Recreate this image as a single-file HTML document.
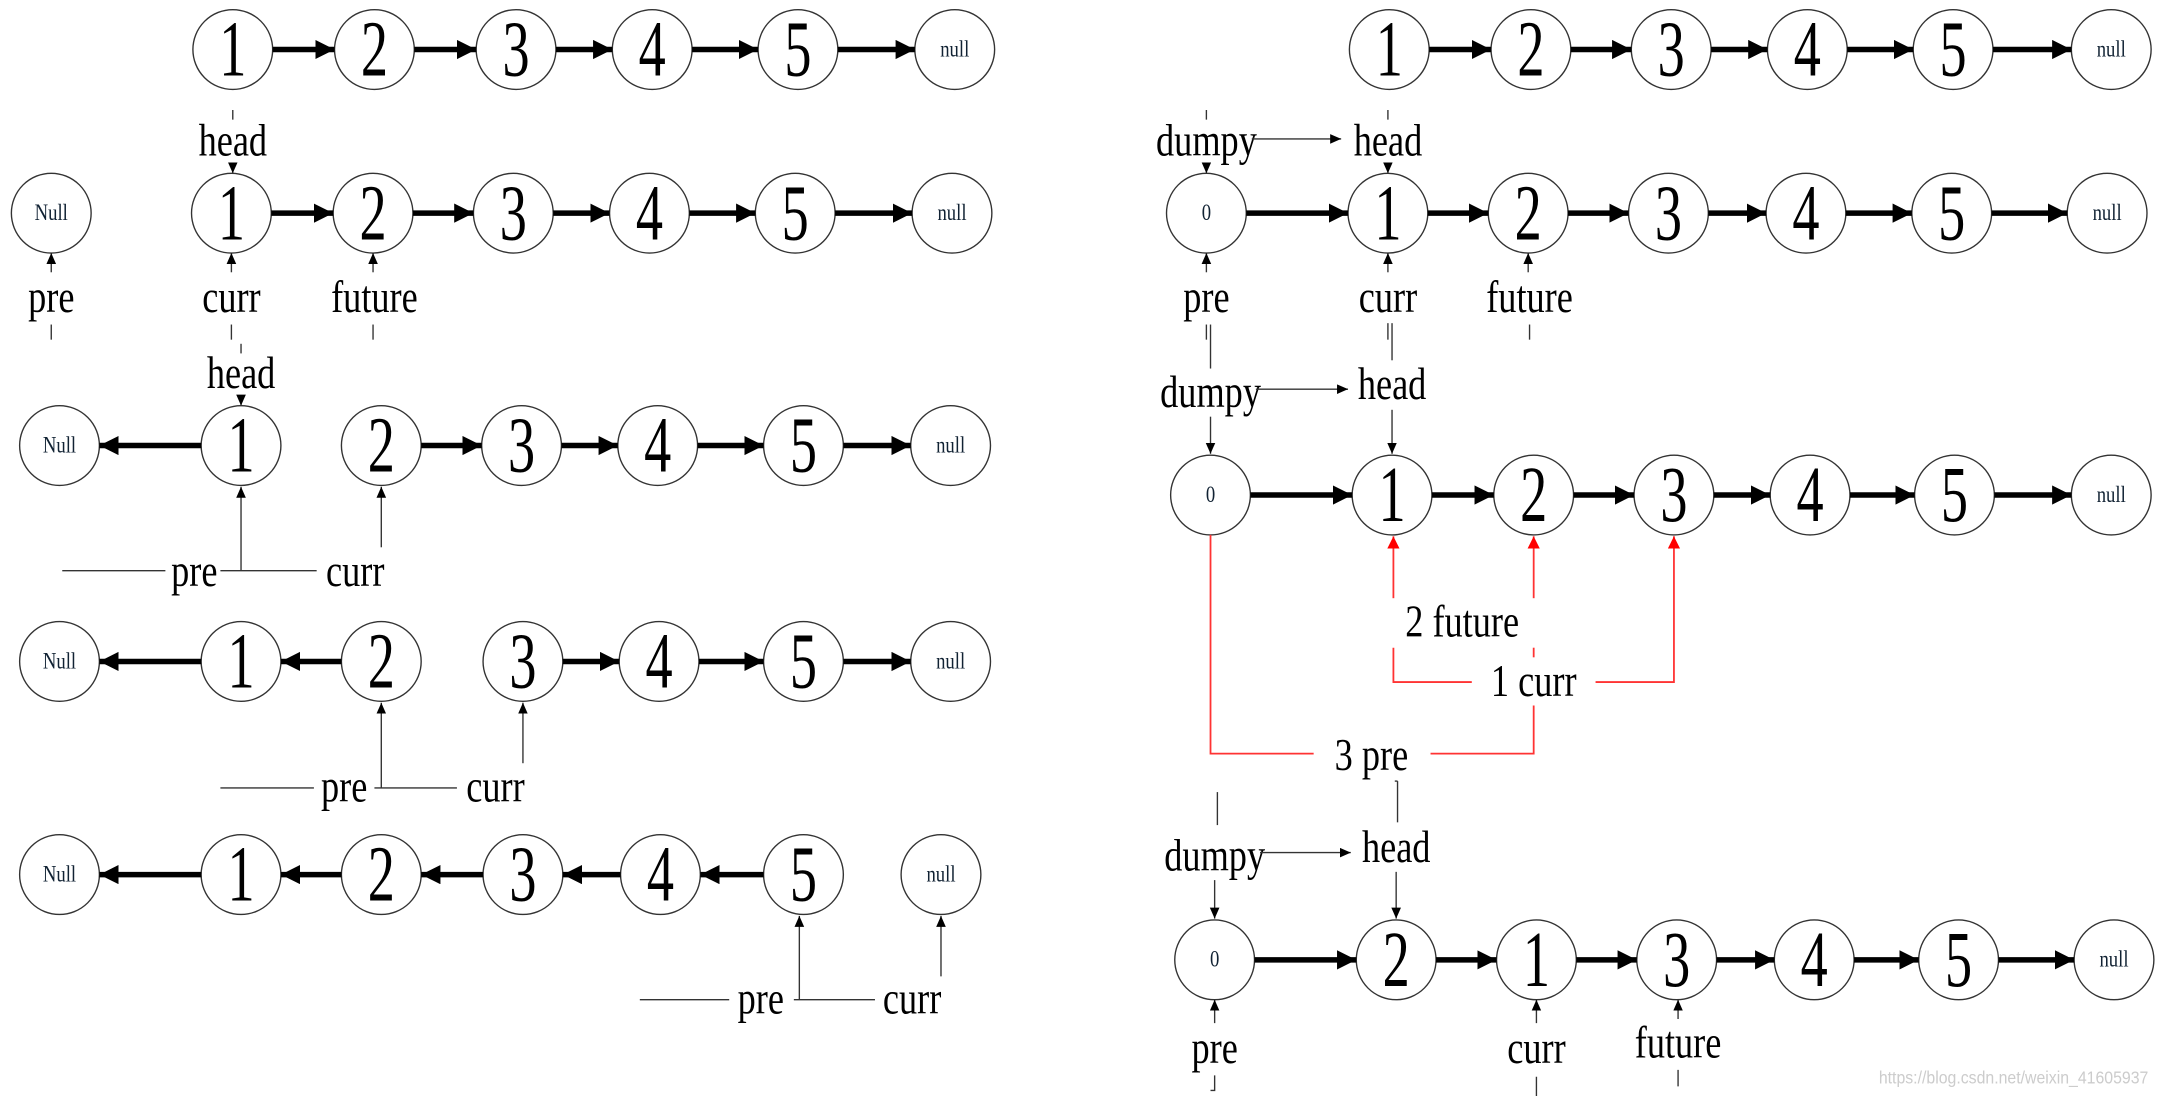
<!DOCTYPE html>
<html><head><meta charset="utf-8"><style>
html,body{margin:0;padding:0;background:#fff;}
svg{display:block}
.n{fill:#fff;stroke:#333;stroke-width:1}
.d{font-family:"Liberation Serif",serif;font-size:58px;text-anchor:middle;fill:#000;transform-box:fill-box;transform-origin:center;transform:translateY(4px) scaleX(.68)}
.s{font-family:"Liberation Serif",serif;font-size:17px;text-anchor:middle;fill:#123;transform-box:fill-box;transform-origin:center;transform:scaleX(.8)}
.l{font-family:"Liberation Serif",serif;font-size:33px;text-anchor:middle;fill:#000;transform-box:fill-box;transform-origin:center;transform:translateY(1px) scaleX(.8)}
.t{stroke:#000;stroke-width:4}
.f{stroke:#333;stroke-width:1;fill:none}
.r{stroke:#f33;stroke-width:1.3;fill:none}
</style></head><body>
<svg width="2157" height="1096" viewBox="0 0 1568 797" xmlns="http://www.w3.org/2000/svg">
<defs>
<marker id="A" markerUnits="userSpaceOnUse" markerWidth="15" markerHeight="15" refX="14" refY="7" orient="auto"><path d="M0,0 L14,7 L0,14 z" fill="#000"/></marker>
<marker id="B" markerUnits="userSpaceOnUse" markerWidth="9" markerHeight="8" refX="8" refY="3.5" orient="auto"><path d="M0,0 L8,3.5 L0,7 z" fill="#000"/></marker>
<marker id="R" markerUnits="userSpaceOnUse" markerWidth="9" markerHeight="10" refX="9" refY="4.5" orient="auto"><path d="M0,0 L9,4.5 L0,9 z" fill="#f00"/></marker>
</defs>

<!-- LEFT row0 -->
<circle class="n" cx="169" cy="36" r="29"/><text class="d" x="169" y="51">1</text>
<circle class="n" cx="272" cy="36" r="29"/><text class="d" x="272" y="51">2</text>
<circle class="n" cx="375" cy="36" r="29"/><text class="d" x="375" y="51">3</text>
<circle class="n" cx="474" cy="36" r="29"/><text class="d" x="474" y="51">4</text>
<circle class="n" cx="580" cy="36" r="29"/><text class="d" x="580" y="51">5</text>
<circle class="n" cx="694" cy="36" r="29"/><text class="s" x="694" y="41">null</text>
<line class="t" x1="198" y1="36" x2="243" y2="36" marker-end="url(#A)"/>
<line class="t" x1="301" y1="36" x2="346" y2="36" marker-end="url(#A)"/>
<line class="t" x1="404" y1="36" x2="445" y2="36" marker-end="url(#A)"/>
<line class="t" x1="503" y1="36" x2="551" y2="36" marker-end="url(#A)"/>
<line class="t" x1="609" y1="36" x2="665" y2="36" marker-end="url(#A)"/>

<!-- LEFT row1 -->
<line class="f" x1="169" y1="80" x2="169" y2="87"/>
<text class="l" x="169" y="112">head</text>
<line class="f" x1="169" y1="119" x2="169" y2="126" marker-end="url(#B)"/>
<circle class="n" cx="37" cy="155" r="29"/><text class="s" x="37" y="160">Null</text>
<circle class="n" cx="168" cy="155" r="29"/><text class="d" x="168" y="170">1</text>
<circle class="n" cx="271" cy="155" r="29"/><text class="d" x="271" y="170">2</text>
<circle class="n" cx="373" cy="155" r="29"/><text class="d" x="373" y="170">3</text>
<circle class="n" cx="472" cy="155" r="29"/><text class="d" x="472" y="170">4</text>
<circle class="n" cx="578" cy="155" r="29"/><text class="d" x="578" y="170">5</text>
<circle class="n" cx="692" cy="155" r="29"/><text class="s" x="692" y="160">null</text>
<line class="t" x1="197" y1="155" x2="242" y2="155" marker-end="url(#A)"/>
<line class="t" x1="300" y1="155" x2="344" y2="155" marker-end="url(#A)"/>
<line class="t" x1="402" y1="155" x2="443" y2="155" marker-end="url(#A)"/>
<line class="t" x1="501" y1="155" x2="549" y2="155" marker-end="url(#A)"/>
<line class="t" x1="607" y1="155" x2="663" y2="155" marker-end="url(#A)"/>
<line class="f" x1="37" y1="198" x2="37" y2="184" marker-end="url(#B)"/>
<line class="f" x1="168" y1="198" x2="168" y2="184" marker-end="url(#B)"/>
<line class="f" x1="271" y1="198" x2="271" y2="184" marker-end="url(#B)"/>
<text class="l" x="37" y="226">pre</text>
<text class="l" x="168" y="226">curr</text>
<text class="l" x="272" y="226">future</text>
<line class="f" x1="37" y1="236" x2="37" y2="247"/>
<line class="f" x1="168" y1="236" x2="168" y2="247"/>
<line class="f" x1="271" y1="236" x2="271" y2="247"/>
<line class="f" x1="175" y1="250" x2="175" y2="257"/>

<!-- LEFT row2 -->
<text class="l" x="175" y="281">head</text>
<line class="f" x1="175" y1="288" x2="175" y2="295" marker-end="url(#B)"/>
<circle class="n" cx="43" cy="324" r="29"/><text class="s" x="43" y="329">Null</text>
<circle class="n" cx="175" cy="324" r="29"/><text class="d" x="175" y="339">1</text>
<circle class="n" cx="277" cy="324" r="29"/><text class="d" x="277" y="339">2</text>
<circle class="n" cx="379" cy="324" r="29"/><text class="d" x="379" y="339">3</text>
<circle class="n" cx="478" cy="324" r="29"/><text class="d" x="478" y="339">4</text>
<circle class="n" cx="584" cy="324" r="29"/><text class="d" x="584" y="339">5</text>
<circle class="n" cx="691" cy="324" r="29"/><text class="s" x="691" y="329">null</text>
<line class="t" x1="146" y1="324" x2="72" y2="324" marker-end="url(#A)"/>
<line class="t" x1="306" y1="324" x2="350" y2="324" marker-end="url(#A)"/>
<line class="t" x1="408" y1="324" x2="449" y2="324" marker-end="url(#A)"/>
<line class="t" x1="507" y1="324" x2="555" y2="324" marker-end="url(#A)"/>
<line class="t" x1="613" y1="324" x2="662" y2="324" marker-end="url(#A)"/>
<line class="f" x1="45" y1="415" x2="120" y2="415"/>
<line class="f" x1="160" y1="415" x2="230" y2="415"/>
<line class="f" x1="175" y1="415" x2="175" y2="354" marker-end="url(#B)"/>
<line class="f" x1="277" y1="398" x2="277" y2="354" marker-end="url(#B)"/>
<text class="l" x="141" y="425">pre</text>
<text class="l" x="258" y="425">curr</text>

<!-- LEFT row3 -->
<circle class="n" cx="43" cy="481" r="29"/><text class="s" x="43" y="486">Null</text>
<circle class="n" cx="175" cy="481" r="29"/><text class="d" x="175" y="496">1</text>
<circle class="n" cx="277" cy="481" r="29"/><text class="d" x="277" y="496">2</text>
<circle class="n" cx="380" cy="481" r="29"/><text class="d" x="380" y="496">3</text>
<circle class="n" cx="479" cy="481" r="29"/><text class="d" x="479" y="496">4</text>
<circle class="n" cx="584" cy="481" r="29"/><text class="d" x="584" y="496">5</text>
<circle class="n" cx="691" cy="481" r="29"/><text class="s" x="691" y="486">null</text>
<line class="t" x1="146" y1="481" x2="72" y2="481" marker-end="url(#A)"/>
<line class="t" x1="248" y1="481" x2="204" y2="481" marker-end="url(#A)"/>
<line class="t" x1="409" y1="481" x2="450" y2="481" marker-end="url(#A)"/>
<line class="t" x1="508" y1="481" x2="555" y2="481" marker-end="url(#A)"/>
<line class="t" x1="613" y1="481" x2="662" y2="481" marker-end="url(#A)"/>
<line class="f" x1="160" y1="573" x2="228" y2="573"/>
<line class="f" x1="272" y1="573" x2="332" y2="573"/>
<line class="f" x1="277" y1="573" x2="277" y2="511" marker-end="url(#B)"/>
<line class="f" x1="380" y1="555" x2="380" y2="511" marker-end="url(#B)"/>
<text class="l" x="250" y="582">pre</text>
<text class="l" x="360" y="582">curr</text>

<!-- LEFT row4 -->
<circle class="n" cx="43" cy="636" r="29"/><text class="s" x="43" y="641">Null</text>
<circle class="n" cx="175" cy="636" r="29"/><text class="d" x="175" y="651">1</text>
<circle class="n" cx="277" cy="636" r="29"/><text class="d" x="277" y="651">2</text>
<circle class="n" cx="380" cy="636" r="29"/><text class="d" x="380" y="651">3</text>
<circle class="n" cx="480" cy="636" r="29"/><text class="d" x="480" y="651">4</text>
<circle class="n" cx="584" cy="636" r="29"/><text class="d" x="584" y="651">5</text>
<circle class="n" cx="684" cy="636" r="29"/><text class="s" x="684" y="641">null</text>
<line class="t" x1="146" y1="636" x2="72" y2="636" marker-end="url(#A)"/>
<line class="t" x1="248" y1="636" x2="204" y2="636" marker-end="url(#A)"/>
<line class="t" x1="351" y1="636" x2="306" y2="636" marker-end="url(#A)"/>
<line class="t" x1="451" y1="636" x2="409" y2="636" marker-end="url(#A)"/>
<line class="t" x1="555" y1="636" x2="509" y2="636" marker-end="url(#A)"/>
<line class="f" x1="465" y1="727" x2="530" y2="727"/>
<line class="f" x1="577" y1="727" x2="636" y2="727"/>
<line class="f" x1="581" y1="727" x2="581" y2="666" marker-end="url(#B)"/>
<line class="f" x1="684" y1="710" x2="684" y2="666" marker-end="url(#B)"/>
<text class="l" x="553" y="736">pre</text>
<text class="l" x="663" y="736">curr</text>

<!-- RIGHT row0 -->
<circle class="n" cx="1010" cy="36" r="29"/><text class="d" x="1010" y="51">1</text>
<circle class="n" cx="1113" cy="36" r="29"/><text class="d" x="1113" y="51">2</text>
<circle class="n" cx="1215" cy="36" r="29"/><text class="d" x="1215" y="51">3</text>
<circle class="n" cx="1314" cy="36" r="29"/><text class="d" x="1314" y="51">4</text>
<circle class="n" cx="1420" cy="36" r="29"/><text class="d" x="1420" y="51">5</text>
<circle class="n" cx="1535" cy="36" r="29"/><text class="s" x="1535" y="41">null</text>
<line class="t" x1="1039" y1="36" x2="1084" y2="36" marker-end="url(#A)"/>
<line class="t" x1="1142" y1="36" x2="1186" y2="36" marker-end="url(#A)"/>
<line class="t" x1="1244" y1="36" x2="1285" y2="36" marker-end="url(#A)"/>
<line class="t" x1="1343" y1="36" x2="1391" y2="36" marker-end="url(#A)"/>
<line class="t" x1="1449" y1="36" x2="1506" y2="36" marker-end="url(#A)"/>

<!-- RIGHT row1 -->
<line class="f" x1="877" y1="80" x2="877" y2="87"/>
<line class="f" x1="1009" y1="80" x2="1009" y2="87"/>
<text class="l" x="877" y="112">dumpy</text>
<text class="l" x="1009" y="112">head</text>
<line class="f" x1="910" y1="101" x2="975" y2="101" marker-end="url(#B)"/>
<line class="f" x1="877" y1="119" x2="877" y2="126" marker-end="url(#B)"/>
<line class="f" x1="1009" y1="119" x2="1009" y2="126" marker-end="url(#B)"/>
<circle class="n" cx="877" cy="155" r="29"/><text class="s" x="877" y="160">0</text>
<circle class="n" cx="1009" cy="155" r="29"/><text class="d" x="1009" y="170">1</text>
<circle class="n" cx="1111" cy="155" r="29"/><text class="d" x="1111" y="170">2</text>
<circle class="n" cx="1213" cy="155" r="29"/><text class="d" x="1213" y="170">3</text>
<circle class="n" cx="1313" cy="155" r="29"/><text class="d" x="1313" y="170">4</text>
<circle class="n" cx="1419" cy="155" r="29"/><text class="d" x="1419" y="170">5</text>
<circle class="n" cx="1532" cy="155" r="29"/><text class="s" x="1532" y="160">null</text>
<line class="t" x1="906" y1="155" x2="980" y2="155" marker-end="url(#A)"/>
<line class="t" x1="1038" y1="155" x2="1082" y2="155" marker-end="url(#A)"/>
<line class="t" x1="1140" y1="155" x2="1184" y2="155" marker-end="url(#A)"/>
<line class="t" x1="1242" y1="155" x2="1284" y2="155" marker-end="url(#A)"/>
<line class="t" x1="1342" y1="155" x2="1390" y2="155" marker-end="url(#A)"/>
<line class="t" x1="1448" y1="155" x2="1503" y2="155" marker-end="url(#A)"/>
<line class="f" x1="877" y1="198" x2="877" y2="184" marker-end="url(#B)"/>
<line class="f" x1="1009" y1="198" x2="1009" y2="184" marker-end="url(#B)"/>
<line class="f" x1="1111" y1="198" x2="1111" y2="184" marker-end="url(#B)"/>
<text class="l" x="877" y="226">pre</text>
<text class="l" x="1009" y="226">curr</text>
<text class="l" x="1112" y="226">future</text>
<line class="f" x1="877" y1="236" x2="877" y2="247"/>
<line class="f" x1="880" y1="236" x2="880" y2="268"/>
<line class="f" x1="1009" y1="235" x2="1009" y2="247"/>
<line class="f" x1="1012" y1="235" x2="1012" y2="262"/>
<line class="f" x1="1112" y1="236" x2="1112" y2="247"/>

<!-- RIGHT row2 -->
<text class="l" x="880" y="295">dumpy</text>
<text class="l" x="1012" y="289">head</text>
<line class="f" x1="913" y1="283" x2="980" y2="283" marker-end="url(#B)"/>
<line class="f" x1="880" y1="303" x2="880" y2="330" marker-end="url(#B)"/>
<line class="f" x1="1012" y1="298" x2="1012" y2="330" marker-end="url(#B)"/>
<circle class="n" cx="880" cy="360" r="29"/><text class="s" x="880" y="365">0</text>
<circle class="n" cx="1012" cy="360" r="29"/><text class="d" x="1012" y="375">1</text>
<circle class="n" cx="1115" cy="360" r="29"/><text class="d" x="1115" y="375">2</text>
<circle class="n" cx="1217" cy="360" r="29"/><text class="d" x="1217" y="375">3</text>
<circle class="n" cx="1316" cy="360" r="29"/><text class="d" x="1316" y="375">4</text>
<circle class="n" cx="1421" cy="360" r="29"/><text class="d" x="1421" y="375">5</text>
<circle class="n" cx="1535" cy="360" r="29"/><text class="s" x="1535" y="365">null</text>
<line class="t" x1="909" y1="360" x2="983" y2="360" marker-end="url(#A)"/>
<line class="t" x1="1041" y1="360" x2="1086" y2="360" marker-end="url(#A)"/>
<line class="t" x1="1144" y1="360" x2="1188" y2="360" marker-end="url(#A)"/>
<line class="t" x1="1246" y1="360" x2="1287" y2="360" marker-end="url(#A)"/>
<line class="t" x1="1345" y1="360" x2="1392" y2="360" marker-end="url(#A)"/>
<line class="t" x1="1450" y1="360" x2="1506" y2="360" marker-end="url(#A)"/>
<!-- red -->
<polyline class="r" points="880,389 880,548 955,548"/>
<polyline class="r" points="1040,548 1115,548 1115,513"/>
<line class="r" x1="1115" y1="478" x2="1115" y2="471"/>
<line class="r" x1="1115" y1="435" x2="1115" y2="390" marker-end="url(#R)"/>
<line class="r" x1="1013" y1="435" x2="1013" y2="390" marker-end="url(#R)"/>
<polyline class="r" points="1013,471 1013,496 1070,496"/>
<polyline class="r" points="1160,496 1217,496 1217,390" marker-end="url(#R)"/>
<text class="l" x="1063" y="462">2 future</text>
<text class="l" x="1115" y="505">1 curr</text>
<text class="l" x="997" y="559">3 pre</text>
<line class="f" x1="1014" y1="568" x2="1016" y2="568"/>
<line class="f" x1="1016" y1="568" x2="1016" y2="598"/>
<line class="f" x1="885" y1="576" x2="885" y2="600"/>

<!-- RIGHT row3 -->
<text class="l" x="883" y="632">dumpy</text>
<text class="l" x="1015" y="626">head</text>
<line class="f" x1="916" y1="620" x2="982" y2="620" marker-end="url(#B)"/>
<line class="f" x1="883" y1="640" x2="883" y2="668" marker-end="url(#B)"/>
<line class="f" x1="1015" y1="634" x2="1015" y2="668" marker-end="url(#B)"/>
<circle class="n" cx="883" cy="698" r="29"/><text class="s" x="883" y="703">0</text>
<circle class="n" cx="1015" cy="698" r="29"/><text class="d" x="1015" y="713">2</text>
<circle class="n" cx="1117" cy="698" r="29"/><text class="d" x="1117" y="713">1</text>
<circle class="n" cx="1219" cy="698" r="29"/><text class="d" x="1219" y="713">3</text>
<circle class="n" cx="1319" cy="698" r="29"/><text class="d" x="1319" y="713">4</text>
<circle class="n" cx="1424" cy="698" r="29"/><text class="d" x="1424" y="713">5</text>
<circle class="n" cx="1537" cy="698" r="29"/><text class="s" x="1537" y="703">null</text>
<line class="t" x1="912" y1="698" x2="986" y2="698" marker-end="url(#A)"/>
<line class="t" x1="1044" y1="698" x2="1088" y2="698" marker-end="url(#A)"/>
<line class="t" x1="1146" y1="698" x2="1190" y2="698" marker-end="url(#A)"/>
<line class="t" x1="1248" y1="698" x2="1290" y2="698" marker-end="url(#A)"/>
<line class="t" x1="1348" y1="698" x2="1395" y2="698" marker-end="url(#A)"/>
<line class="t" x1="1453" y1="698" x2="1508" y2="698" marker-end="url(#A)"/>
<line class="f" x1="883" y1="744" x2="883" y2="727" marker-end="url(#B)"/>
<line class="f" x1="1117" y1="744" x2="1117" y2="727" marker-end="url(#B)"/>
<line class="f" x1="1220" y1="741" x2="1220" y2="727" marker-end="url(#B)"/>
<text class="l" x="883" y="772">pre</text>
<text class="l" x="1117" y="772">curr</text>
<text class="l" x="1220" y="768">future</text>
<polyline class="f" points="880,793 883,793 883,782"/>
<line class="f" x1="1117" y1="783" x2="1117" y2="797"/>
<line class="f" x1="1220" y1="778" x2="1220" y2="790"/>
<text x="1562" y="788" font-family="Liberation Sans, sans-serif" font-size="13" fill="#ccc" text-anchor="end" textLength="196" lengthAdjust="spacingAndGlyphs">https://blog.csdn.net/weixin_41605937</text>
</svg>
</body></html>
